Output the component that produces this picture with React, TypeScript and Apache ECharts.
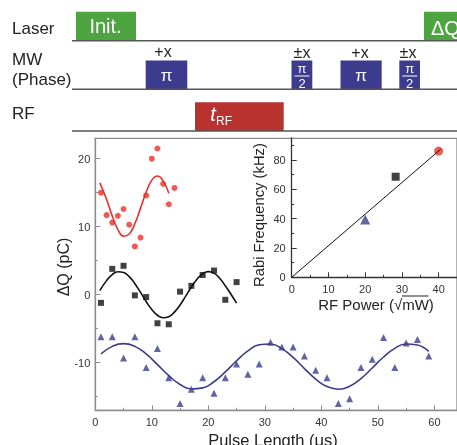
import React, { useEffect, useRef } from "react";
import * as echarts from "echarts";

const FONT = "'Liberation Sans', Arial, sans-serif";

// ΔQ (pC) versus RF pulse length (μs), three RF powers
const redX = [1, 2, 3, 4, 5, 6, 7, 8, 9, 10, 11, 12, 13, 14];
const redY = [15.0, 11.7, 10.6, 11.6, 12.6, 10.3, 7.1, 8.4, 14.6, 20.0, 21.5, 16.3, 13.3, 15.7];

const blackX = [1, 3, 5, 7, 9, 11, 13, 15, 17, 19, 21, 23, 25];
const blackY = [-1.2, 3.8, 4.25, -0.1, -0.35, -4.2, -4.35, 0.45, 1.3, 2.9, 3.55, -0.75, 1.85];

const blueX = [1, 3, 5, 7, 9, 11, 13, 15, 17, 19, 21, 23, 25, 27, 29, 31, 33, 35, 37, 39, 41, 43, 45, 47, 49, 51, 53, 55, 57, 59];
const blueY = [-6.2, -6.2, -9.3, -6.2, -10.7, -7.9, -12.2, -16.0, -13.9, -12.2, -14.5, -12.2, -10.2, -11.7, -10.2, -7.0, -7.7, -7.7, -9.0, -11.1, -12.2, -16.0, -15.3, -10.7, -9.5, -6.3, -10.7, -7.1, -6.6, -9.0];

// Fitted Rabi oscillations
const redFitX = [0.8, 2, 3, 4, 5, 6, 7, 8, 9, 10, 11, 12, 13];
const redFitY = [16.45, 14.0, 11.58, 9.58, 8.6, 8.92, 10.45, 12.73, 15.1, 16.85, 17.45, 16.74, 14.93];

const blackFitX = [0.8, 2, 3, 4, 5, 6, 7, 8, 9, 10, 11, 12, 13, 14, 15, 16, 17, 18, 19, 20, 21, 22, 23, 24, 25];
const blackFitY = [0.61, 2.07, 2.96, 3.38, 3.27, 2.65, 1.62, 0.34, -1.0, -2.18, -3.02, -3.39, -3.23, -2.57, -1.51, -0.21, 1.13, 2.28, 3.08, 3.4, 3.18, 2.43, 1.32, 0.07, -1.25];

const blueFitX = [1, 3, 5, 7, 9, 11, 13, 15, 17, 19, 21, 23, 25, 27, 29, 31, 33, 35, 37, 39, 41, 43, 45, 47, 49, 51, 53, 55, 57, 59];
const blueFitY = [-8.72, -7.6, -7.2, -7.6, -8.72, -10.28, -11.9, -13.2, -13.86, -13.7, -12.8, -11.36, -9.71, -8.27, -7.37, -7.25, -7.93, -9.23, -10.86, -12.41, -13.51, -13.9, -13.47, -12.34, -10.78, -9.16, -7.89, -7.24, -7.4, -8.33];

// Inset: Rabi frequency (kHz) versus RF power (√mW)
const insetPower = [20, 28.3, 40];
const insetRabi = [39.5, 68.6, 86.1];
const insetLineX = [0, 40.5];
const insetLineY = [0, 87.2];

// Axis ticks
const mainXMajor = [0, 10, 20, 30, 40, 50, 60];
const mainXMinor = [5, 15, 25, 35, 45, 55];
const mainYMajor = [-10, 0, 10, 20];
const mainYMinor = [-15, -5, 5, 15];
const insetXMajor = [0, 10, 20, 30, 40];
const insetXMinor = [5, 15, 25, 35];
const insetYMajor = [0, 20, 40, 60, 80];
const insetYMinor = [10, 30, 50, 70, 90];

const RED = "#E8312B";
const BLUE = "#3B3D8C";
const BLACK = "#111111";
const GREEN = "#4DA441";
const NAVY = "#3D3B8E";
const RF_RED = "#B83230";
const TEXT = "#222222";

const pairs = (xs: number[], ys: number[]) => xs.map((x, i) => [x, ys[i]]);

function axis(dim: "x" | "y", gridIndex: number, min: number, max: number, ticks: number[], color: string, margin: number) {
  return {
    type: "value",
    gridIndex,
    min,
    max,
    position: dim === "x" ? "bottom" : "left",
    axisLine: { show: true, onZero: false, lineStyle: { color, width: 1.3 } },
    axisTick: { show: true, inside: true, length: 5, customValues: ticks, lineStyle: { color, width: 1 } },
    axisLabel: { show: true, customValues: ticks, margin, color: "#333", fontSize: 11, fontFamily: FONT },
    splitLine: { show: false },
  };
}

function minorAxis(dim: "x" | "y", gridIndex: number, min: number, max: number, ticks: number[], color: string) {
  return {
    type: "value",
    gridIndex,
    min,
    max,
    position: dim === "x" ? "bottom" : "left",
    axisLine: { show: false, onZero: false },
    axisTick: { show: true, inside: true, length: 2.5, customValues: ticks, lineStyle: { color, width: 1 } },
    axisLabel: { show: false },
    splitLine: { show: false },
  };
}

function txt(text: string, x: number, y: number, size: number, opts: any = {}) {
  const align = opts.align || "left";
  return {
    type: "text",
    x,
    y,
    rotation: opts.rotation || 0,
    z: 10,
    style: {
      text,
      fill: opts.fill || TEXT,
      fontSize: size,
      fontFamily: FONT,
      fontStyle: opts.italic ? "italic" : "normal",
      align,
      textAlign: align,
      verticalAlign: "middle",
      textVerticalAlign: "middle",
    },
  };
}

function box(x: number, y: number, w: number, h: number, fill: string) {
  return { type: "rect", z: 5, shape: { x, y, width: w, height: h }, style: { fill } };
}

function hline(x1: number, x2: number, y: number, stroke: string, lineWidth: number) {
  return { type: "line", z: 6, shape: { x1, y1: y, x2, y2: y }, style: { stroke, lineWidth } };
}

function halfPi(cx: number) {
  return [
    txt("π", cx, 68.5, 13, { align: "center", fill: "#fff" }),
    hline(cx - 7.5, cx + 7.5, 76, "#fff", 1),
    txt("2", cx, 83, 13, { align: "center", fill: "#fff" }),
  ];
}

function buildOption() {
  const graphic: any[] = [
    // channel labels
    txt("Laser", 12, 28, 17),
    txt("MW", 12, 59.2, 17),
    txt("(Phase)", 12, 79.2, 17),
    txt("RF", 12, 113.4, 17),
    // channel baselines
    hline(72, 457, 40.7, "#555", 1.5),
    hline(72, 457, 89.3, "#555", 1.5),
    hline(72, 457, 131, "#555", 1.5),
    // laser pulses
    box(76, 11.7, 60, 29, GREEN),
    txt("Init.", 105.5, 25.8, 20, { align: "center", fill: "#fff" }),
    box(424, 11.7, 40, 29, GREEN),
    txt("ΔQ", 431, 27.5, 20, { fill: "#fff" }),
    // microwave pulses
    box(145.7, 60.5, 41.6, 28.8, NAVY),
    txt("π", 166.5, 75.5, 17, { align: "center", fill: "#fff" }),
    txt("+x", 163, 51.5, 16, { align: "center" }),
    box(291.5, 60.5, 20.8, 28.8, NAVY),
    ...halfPi(302),
    txt("±x", 302, 52, 16, { align: "center" }),
    box(340.5, 60.5, 41.2, 28.8, NAVY),
    txt("π", 361, 75.5, 17, { align: "center", fill: "#fff" }),
    txt("+x", 360, 52, 16, { align: "center" }),
    box(399.3, 60.5, 20.7, 28.8, NAVY),
    ...halfPi(409.7),
    txt("±x", 408, 52, 16, { align: "center" }),
    // RF pulse
    box(195, 102.3, 88.7, 28.7, RF_RED),
    txt("t", 213, 113.5, 20, { align: "center", fill: "#fff", italic: true }),
    txt("RF", 216, 120.5, 12, { fill: "#fff" }),
    // axis titles
    txt("ΔQ (pC)", 63, 267, 16, { align: "center", rotation: Math.PI / 2 }),
    txt("Pulse Length (μs)", 273, 440, 16.5, { align: "center" }),
    txt("Rabi Frequency (kHz)", 259, 215, 14.8, { align: "center", rotation: Math.PI / 2 }),
    txt("RF Power (√mW)", 376, 304, 15, { align: "center" }),
    hline(402, 428.5, 296, TEXT, 1),
  ];

  return {
    animation: false,
    textStyle: { fontFamily: FONT },
    grid: [
      { left: 95.3, top: 138.3, width: 362.7, height: 272, show: true, borderColor: "#8c8c8c", borderWidth: 1.3, backgroundColor: "transparent" },
      { left: 291.7, top: 138, width: 171.8, height: 139.3 },
    ],
    xAxis: [
      axis("x", 0, 0, 64, mainXMajor, "#8c8c8c", 6),
      minorAxis("x", 0, 0, 64, mainXMinor, "#8c8c8c"),
      axis("x", 1, 0, 45, insetXMajor, "#333", 6),
      minorAxis("x", 1, 0, 45, insetXMinor, "#333"),
    ],
    yAxis: [
      axis("y", 0, -17, 23, mainYMajor, "#8c8c8c", 5),
      minorAxis("y", 0, -17, 23, mainYMinor, "#8c8c8c"),
      axis("y", 1, 0, 95, insetYMajor, "#333", 6),
      minorAxis("y", 1, 0, 95, insetYMinor, "#333"),
    ],
    series: [
      { type: "line", xAxisIndex: 0, yAxisIndex: 0, data: pairs(redFitX, redFitY), smooth: true, symbol: "none", lineStyle: { color: RED, width: 1.6 } },
      { type: "line", xAxisIndex: 0, yAxisIndex: 0, data: pairs(blackFitX, blackFitY), smooth: true, symbol: "none", lineStyle: { color: BLACK, width: 1.6 } },
      { type: "line", xAxisIndex: 0, yAxisIndex: 0, data: pairs(blueFitX, blueFitY), smooth: true, symbol: "none", lineStyle: { color: BLUE, width: 1.6 } },
      { type: "scatter", xAxisIndex: 0, yAxisIndex: 0, data: pairs(redX, redY), symbol: "circle", symbolSize: 6, itemStyle: { color: RED } },
      { type: "scatter", xAxisIndex: 0, yAxisIndex: 0, data: pairs(blackX, blackY), symbol: "rect", symbolSize: 6, itemStyle: { color: BLACK } },
      { type: "scatter", xAxisIndex: 0, yAxisIndex: 0, data: pairs(blueX, blueY), symbol: "triangle", symbolSize: 7, itemStyle: { color: BLUE } },
      { type: "line", xAxisIndex: 2, yAxisIndex: 2, data: pairs(insetLineX, insetLineY), symbol: "none", lineStyle: { color: BLACK, width: 1 } },
      { type: "scatter", xAxisIndex: 2, yAxisIndex: 2, data: [[insetPower[0], insetRabi[0]]], symbol: "triangle", symbolSize: 10, itemStyle: { color: BLUE } },
      { type: "scatter", xAxisIndex: 2, yAxisIndex: 2, data: [[insetPower[1], insetRabi[1]]], symbol: "rect", symbolSize: 8, itemStyle: { color: BLACK } },
      { type: "scatter", xAxisIndex: 2, yAxisIndex: 2, data: [[insetPower[2], insetRabi[2]]], symbol: "circle", symbolSize: 9, itemStyle: { color: RED } },
    ],
    graphic,
  };
}

export default function App() {
  const ref = useRef<HTMLDivElement>(null);
  useEffect(() => {
    if (!ref.current) return;
    const chart = echarts.init(ref.current, null, { renderer: "svg" });
    chart.setOption(buildOption() as any);
    return () => chart.dispose();
  }, []);
  return <div ref={ref} style={{ position: "fixed", left: 0, top: 0, width: 457, height: 445 }} />;
}
